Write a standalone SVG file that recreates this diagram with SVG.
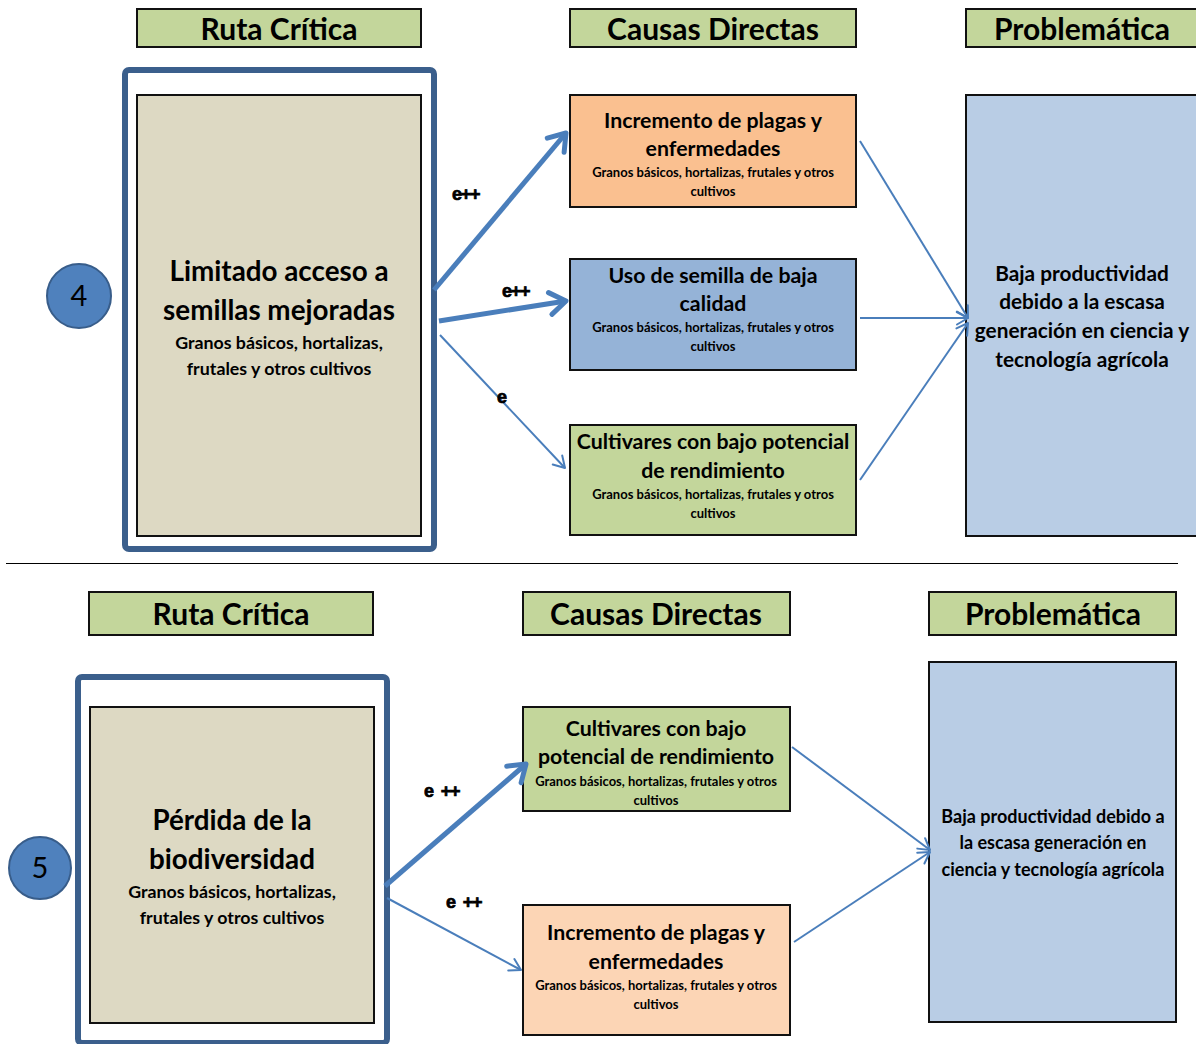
<svg xmlns="http://www.w3.org/2000/svg" width="1196" height="1044" viewBox="0 0 1196 1044">
<defs>
<style>
text{font-family:Lato,"Open Sans","Liberation Sans",sans-serif;font-weight:bold;fill:#000;text-anchor:middle}
.hdr{fill:#c3d69b;stroke:#111;stroke-width:2}
.hdrt{font-size:30px}
.frame{fill:#fff;stroke:#3b5f8c;stroke-width:6}
.tan{fill:#ddd9c3;stroke:#111;stroke-width:2}
.box{stroke:#111;stroke-width:2}
.big{font-size:27.8px}
.mid{font-size:21.3px}
.sm{font-size:13px}
.sub{font-size:17.8px}
.prob{font-size:20.8px}
.prob2{font-size:18px}
.lab{font-family:"Liberation Sans",Arial,sans-serif;font-size:18px;font-weight:bold;text-anchor:start;letter-spacing:-1.2px;stroke:#000;stroke-width:0.7}
.thick{stroke:#4a7ebb;stroke-width:5;fill:none}
.thin{stroke:#4a7ebb;stroke-width:2;fill:none}
.circ{fill:#4f81bd;stroke:#385d8a;stroke-width:2}
.num{font-size:29px;font-weight:normal}
</style>
<marker id="ahT" markerUnits="userSpaceOnUse" viewBox="-20 -14 24 28" markerWidth="24" markerHeight="28" refX="0" refY="0" orient="auto">
<path d="M -16 -11 L 0 0 L -16 11" fill="none" stroke="#4a7ebb" stroke-width="5" stroke-linecap="round" stroke-linejoin="round"/>
</marker>
<marker id="ahN" markerUnits="userSpaceOnUse" viewBox="-16 -10 20 20" markerWidth="20" markerHeight="20" refX="0" refY="0" orient="auto">
<path d="M -11 -6.5 L 0 0 L -11 6.5" fill="none" stroke="#4a7ebb" stroke-width="2" stroke-linecap="round" stroke-linejoin="round"/>
</marker>
</defs>
<rect width="1196" height="1044" fill="#fff"/>

<!-- Top section -->
<g id="hdr-ruta-1"><rect class="hdr" x="137" y="9" width="284" height="38"/><text class="hdrt" x="279" y="40">Ruta Crítica</text></g>
<g id="hdr-causas-1"><rect class="hdr" x="570" y="9" width="286" height="38"/><text class="hdrt" x="713" y="40">Causas Directas</text></g>
<g id="hdr-prob-1"><rect class="hdr" x="966" y="9" width="240" height="38"/><text class="hdrt" x="1082" y="40">Problemática</text></g>

<g id="num-4"><circle class="circ" cx="79" cy="296" r="32"/><text class="num" x="79" y="306">4</text></g>

<g id="ruta-4">
<rect class="frame" x="125" y="70" width="309" height="479" rx="4"/>
<rect class="tan" x="137" y="95" width="284" height="441"/>
<text class="big" x="279" y="281">Limitado acceso a</text>
<text class="big" x="279" y="320">semillas mejoradas</text>
<text class="sub" x="279" y="349">Granos básicos, hortalizas,</text>
<text class="sub" x="279" y="375">frutales y otros cultivos</text>
</g>

<g id="causa-plagas-1">
<rect class="box" x="570" y="95" width="286" height="112" fill="#fac090"/>
<text class="mid" x="713" y="128">Incremento de plagas y</text>
<text class="mid" x="713" y="156">enfermedades</text>
<text class="sm" x="713" y="177">Granos básicos, hortalizas, frutales y otros</text>
<text class="sm" x="713" y="196">cultivos</text>
</g>

<g id="causa-semilla">
<rect class="box" x="570" y="259" width="286" height="111" fill="#95b3d7"/>
<text class="mid" x="713" y="283">Uso de semilla de baja</text>
<text class="mid" x="713" y="311">calidad</text>
<text class="sm" x="713" y="332">Granos básicos, hortalizas, frutales y otros</text>
<text class="sm" x="713" y="351">cultivos</text>
</g>

<g id="causa-cultivares-1">
<rect class="box" x="570" y="425" width="286" height="110" fill="#c3d69b"/>
<text class="mid" x="713" y="449">Cultivares con bajo potencial</text>
<text class="mid" x="713" y="478">de rendimiento</text>
<text class="sm" x="713" y="499">Granos básicos, hortalizas, frutales y otros</text>
<text class="sm" x="713" y="518">cultivos</text>
</g>

<g id="prob-1">
<rect class="box" x="966" y="95" width="240" height="441" fill="#b9cde5"/>
<text class="prob" x="1082" y="281">Baja productividad</text>
<text class="prob" x="1082" y="309">debido a la escasa</text>
<text class="prob" x="1082" y="338">generación en ciencia y</text>
<text class="prob" x="1082" y="367">tecnología agrícola</text>
</g>

<line id="separator" x1="6" y1="563.5" x2="1178" y2="563.5" stroke="#000" stroke-width="1"/>

<!-- Bottom section -->
<g id="hdr-ruta-2"><rect class="hdr" x="89" y="592" width="284" height="43"/><text class="hdrt" x="231" y="625">Ruta Crítica</text></g>
<g id="hdr-causas-2"><rect class="hdr" x="523" y="592" width="267" height="43"/><text class="hdrt" x="656" y="625">Causas Directas</text></g>
<g id="hdr-prob-2"><rect class="hdr" x="929" y="592" width="247" height="43"/><text class="hdrt" x="1053" y="625">Problemática</text></g>

<g id="num-5"><circle class="circ" cx="40" cy="868" r="31"/><text class="num" x="40" y="878">5</text></g>

<g id="ruta-5">
<rect class="frame" x="78" y="677" width="309" height="366" rx="4"/>
<rect class="tan" x="90" y="707" width="284" height="316"/>
<text class="big" x="232" y="830">Pérdida de la</text>
<text class="big" x="232" y="869">biodiversidad</text>
<text class="sub" x="232" y="898">Granos básicos, hortalizas,</text>
<text class="sub" x="232" y="924">frutales y otros cultivos</text>
</g>

<g id="causa-cultivares-2">
<rect class="box" x="523" y="707" width="267" height="104" fill="#c3d69b"/>
<text class="mid" x="656" y="736">Cultivares con bajo</text>
<text class="mid" x="656" y="764">potencial de rendimiento</text>
<text class="sm" x="656" y="786">Granos básicos, hortalizas, frutales y otros</text>
<text class="sm" x="656" y="805">cultivos</text>
</g>

<g id="causa-plagas-2">
<rect class="box" x="523" y="905" width="267" height="130" fill="#fcd5b5"/>
<text class="mid" x="656" y="940">Incremento de plagas y</text>
<text class="mid" x="656" y="969">enfermedades</text>
<text class="sm" x="656" y="990">Granos básicos, hortalizas, frutales y otros</text>
<text class="sm" x="656" y="1009">cultivos</text>
</g>

<g id="prob-2">
<rect class="box" x="929" y="662" width="247" height="360" fill="#b9cde5"/>
<text class="prob2" x="1053" y="823">Baja productividad debido a</text>
<text class="prob2" x="1053" y="849">la escasa generación en</text>
<text class="prob2" x="1053" y="876">ciencia y tecnología agrícola</text>
</g>

<!-- Connectors -->
<g id="connectors">
<line class="thick" x1="434" y1="290" x2="566" y2="133" marker-end="url(#ahT)"/>
<line class="thick" x1="439" y1="321" x2="566" y2="301" marker-end="url(#ahT)"/>
<line class="thin" x1="440" y1="335" x2="565" y2="468" marker-end="url(#ahN)"/>
<line class="thin" x1="860" y1="141" x2="968" y2="318" marker-end="url(#ahN)"/>
<line class="thin" x1="860" y1="318" x2="968" y2="318" marker-end="url(#ahN)"/>
<line class="thin" x1="860" y1="480" x2="968" y2="323" marker-end="url(#ahN)"/>
<line class="thick" x1="385" y1="886" x2="526" y2="764" marker-end="url(#ahT)"/>
<line class="thin" x1="387" y1="898" x2="521" y2="970" marker-end="url(#ahN)"/>
<line class="thin" x1="792" y1="747" x2="930" y2="850" marker-end="url(#ahN)"/>
<line class="thin" x1="794" y1="942" x2="930" y2="852" marker-end="url(#ahN)"/>
<text class="lab" x="452" y="200">e++</text>
<text class="lab" x="502" y="297">e++</text>
<text class="lab" x="497" y="403">e</text>
<text class="lab" x="424" y="797" xml:space="preserve">e <tspan dx="4">++</tspan></text>
<text class="lab" x="446" y="908" xml:space="preserve">e <tspan dx="4">++</tspan></text>
</g>
</svg>
